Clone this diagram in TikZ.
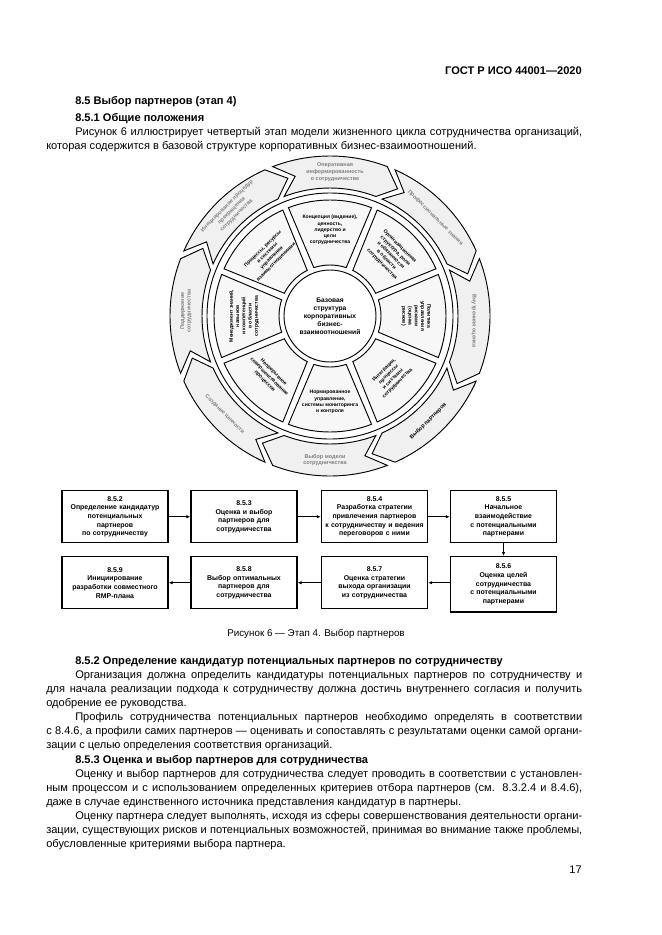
\documentclass[tikz,border=0pt]{standalone}
\usepackage{fontspec}
\setmainfont{Liberation Sans}
\usetikzlibrary{positioning,arrows.meta}

\newcommand{\bodyfont}{\fontsize{8.3}{10.6}\selectfont}

\tikzset{
  txt/.style={anchor=base west, inner sep=0pt, font=\bodyfont},
  para/.style={txt, text width=402pt, align=justify},
  headline/.style={txt, font=\bodyfont\bfseries},
  ringarrow/.style={draw, line width=0.7pt, fill=gray!12},
  sector/.style={draw, line width=0.7pt, fill=gray!6},
  ringtext/.style={inner sep=0pt, align=center, font=\fontsize{4.1}{5}\selectfont\bfseries},
  sectortext/.style={inner sep=0pt, align=center, font=\fontsize{3.8}{4.7}\selectfont\bfseries},
  stepbox/.style={draw, line width=1.1pt, anchor=north, minimum width=79.5pt, minimum height=39pt,
    text width=76pt, inner sep=1pt, align=center, font=\fontsize{5.2}{6.5}\selectfont\bfseries},
  flow/.style={-{Latex[length=3pt,width=2.6pt]}, line width=0.7pt},
}

\begin{document}
\begin{tikzpicture}[x=0.75pt, y=0.75pt]
  \fill[white] (0,0) rectangle (661,-935);
  \useasboundingbox (0,0) rectangle (661,-935);

  % header and opening text
  \node[txt, anchor=base east, font=\bodyfont\bfseries] (gost) at (582,-74) {ГОСТ Р ИСО 44001—2020};
  \node[headline] (h85) at (75,-104) {8.5 Выбор партнеров (этап 4)};
  \node[headline] (h851) at (75,-121) {8.5.1 Общие положения};
  \node[para] (p851) at (46,-135) {\hspace*{21.75pt}Рисунок 6 иллюстрирует четвертый этап модели жизненного цикла сотрудничества организаций,\linebreak которая содержится в базовой структуре корпоративных бизнес-взаимоотношений.};

  % life cycle wheel
  \coordinate (hub) at (330,-316);
  \begin{scope}[shift={(hub)}]
    % outer ring of stages
    \foreach \a in {90,45,...,-225} {
      \draw[ringarrow] (\a+21:160) arc[start angle=\a+21, end angle=\a-21, radius=160]
        -- (\a-28:144) -- (\a-21:128) arc[start angle=\a-21, end angle=\a+21, radius=128]
        -- (\a+14:144) -- cycle;
    }
    \draw[line width=0.7pt, fill=white] (0,0) circle[radius=123];
    % framework sectors
    \foreach \a in {90,45,...,-225} {
      \draw[sector] (\a+21:116) arc[start angle=\a+21, end angle=\a-21, radius=116]
        -- (\a-18.5:51) arc[start angle=\a-18.5, end angle=\a+18.5, radius=51] -- cycle;
    }
    \node[draw, circle, line width=0.7pt, fill=white, minimum size=69pt, inner sep=0pt,
      align=center, font=\fontsize{5}{6}\selectfont\bfseries] (core) at (0,0)
      {Базовая\\структура\\корпоративных\\бизнес-\\взаимоотношений};
    \foreach \a/\r/\t [count=\i] in {
      90/0/{Концепция (видение),\\ценность,\\лидерство и\\цели\\сотрудничества},
      45/-45/{Организационная\\структура, роли\\и обязанности\\в области\\сотрудничества},
      0/-90/{Политика\\управления\\рисками\\(оценка\\рисков)},
      -45/45/{Интеграция,\\процессы\\и системы\\сотрудничества},
      -90/0/{Нормированное\\управление,\\системы мониторинга\\и контроля},
      -135/-45/{Непрерывное\\совершенствование\\процессов},
      180/90/{Менеджмент знаний,\\навыков\\и компетенций\\в области\\сотрудничества},
      135/45/{Процессы, ресурсы\\и системы\\управления\\взаимоотношениями}} {
      \node[sectortext, rotate=\r] (sec\i) at (\a:86) {\t};
    }
    \foreach \a/\r/\c/\t [count=\i] in {
      90/0/gray/{Оперативная\\информированность\\о сотрудничестве},
      45/-45/gray/{Профессиональные знания},
      0/-90/gray/{Внутренняя оценка},
      -45/45/black/{Выбор партнеров},
      -90/0/gray/{Выбор модели\\сотрудничества},
      -135/-45/gray/{Создание ценности},
      180/90/gray/{Поддержание\\сотрудничества},
      135/45/gray/{Инициирование процедур\\прекращения\\сотрудничества}} {
      \node[ringtext, rotate=\r, text=\c] (ring\i) at (\a-2:144) {\t};
    }
  \end{scope}

  % steps of stage 4
  \node[stepbox] (s852) at (115,-490) {8.5.2\\Определение кандидатур\\потенциальных\\партнеров\\по сотрудничеству};
  \node[stepbox] (s853) at (244,-490) {8.5.3\\Оценка и выбор\\партнеров для\\сотрудничества};
  \node[stepbox] (s854) at (374.5,-490) {8.5.4\\Разработка стратегии\\привлечения партнеров\\к сотрудничеству и ведения\\переговоров с ними};
  \node[stepbox] (s855) at (503.5,-490) {8.5.5\\Начальное\\взаимодействие\\с потенциальными\\партнерами};
  \node[stepbox, minimum height=41.5pt] (s856) at (503.5,-556) {8.5.6\\Оценка целей\\сотрудничества\\с потенциальными\\партнерами};
  \node[stepbox] (s857) at (374.5,-556) {8.5.7\\Оценка стратегии\\выхода организации\\из сотрудничества};
  \node[stepbox] (s858) at (244,-556) {8.5.8\\Выбор оптимальных\\партнеров для\\сотрудничества};
  \node[stepbox] (s859) at (115,-556) {8.5.9\\Инициирование\\разработки совместного\\RMP-плана};
  \draw[flow] (s852) -- (s853);
  \draw[flow] (s853) -- (s854);
  \draw[flow] (s854) -- (s855);
  \draw[flow] (s855) -- (s856);
  \draw[flow] (s856.west |- s857) -- (s857);
  \draw[flow] (s857) -- (s858);
  \draw[flow] (s858) -- (s859);

  \node[txt, anchor=base, font=\fontsize{7.35}{9}\selectfont] (cap) at (316,-636) {Рисунок 6 — Этап 4. Выбор партнеров};

  % closing text
  \node[headline] (h852) at (75,-664) {8.5.2 Определение кандидатур потенциальных партнеров по сотрудничеству};
  \node[para] (p852a) at (46,-678) {\hspace*{21.75pt}Организация должна определить кандидатуры потенциальных партнеров по сотрудничеству и\linebreak для начала реализации подхода к сотрудничеству должна достичь внутреннего согласия и получить\linebreak одобрение ее руководства.};
  \node[para] (p852b) at (46,-720.5) {\hspace*{21.75pt}Профиль сотрудничества потенциальных партнеров необходимо определять в соответствии\linebreak с 8.4.6, а профили самих партнеров — оценивать и сопоставлять с результатами оценки самой органи-\linebreak зации с целью определения соответствия организаций.};
  \node[headline] (h853) at (75,-763) {8.5.3 Оценка и выбор партнеров для сотрудничества};
  \node[para] (p853a) at (46,-777) {\hspace*{21.75pt}Оценку и выбор партнеров для сотрудничества следует проводить в соответствии с установлен-\linebreak ным процессом и с использованием определенных критериев отбора партнеров (см. 8.3.2.4 и 8.4.6),\linebreak даже в случае единственного источника представления кандидатур в партнеры.};
  \node[para] (p853b) at (46,-819) {\hspace*{21.75pt}Оценку партнера следует выполнять, исходя из сферы совершенствования деятельности органи-\linebreak зации, существующих рисков и потенциальных возможностей, принимая во внимание также проблемы,\linebreak обусловленные критериями выбора партнера.};
  \node[txt, anchor=base east] (pageno) at (582,-873) {17};
\end{tikzpicture}
\end{document}
